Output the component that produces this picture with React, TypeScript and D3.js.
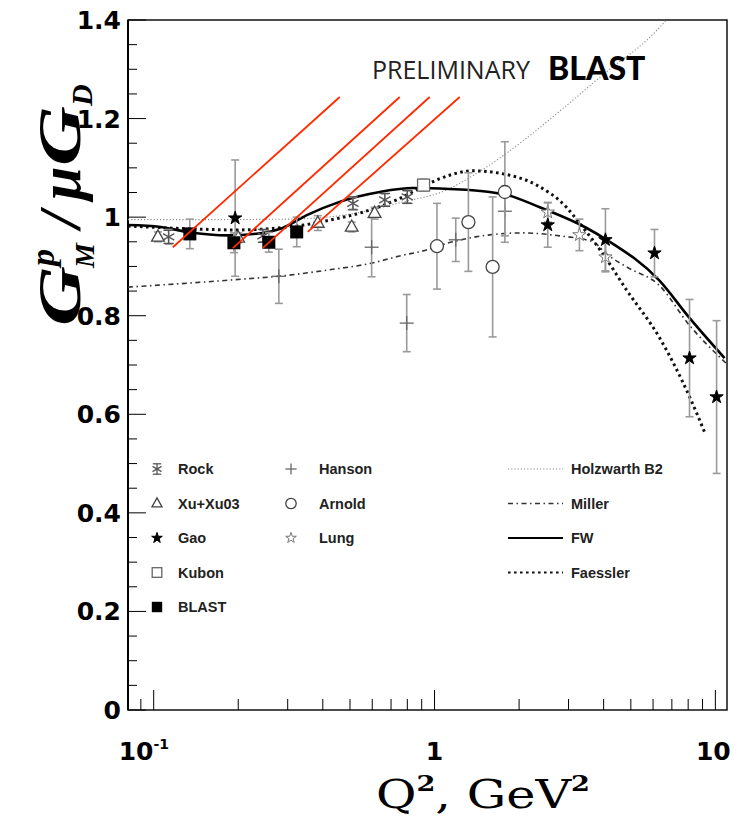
import React from 'react';
import * as d3 from 'd3';

// ---------- axes ----------
const xDomain: [number, number] = [0.081, 11];
const yDomain: [number, number] = [0, 1.4];
const yTickValues = [0, 0.2, 0.4, 0.6, 0.8, 1, 1.2, 1.4];
const yTickLabels = ['0', '0.2', '0.4', '0.6', '0.8', '1', '1.2', '1.4'];
const xMajorTicks = [0.1, 1, 10];
const xMinorTicks = [0.09, 0.2, 0.3, 0.4, 0.5, 0.6, 0.7, 0.8, 0.9, 2, 3, 4, 5, 6, 7, 8, 9];

// ---------- data sets (Q2, value, error) ----------
const rockQ2 = [0.113, 0.245, 0.512, 0.665, 0.80];
const rockVal = [0.960, 0.962, 1.028, 1.035, 1.041];
const rockErr = [0.015, 0.012, 0.012, 0.012, 0.012];

const xuQ2 = [0.1035, 0.20, 0.384, 0.507, 0.612];
const xuVal = [0.960, 0.958, 0.988, 0.980, 1.008];
const xuErr = [0.010, 0.010, 0.015, 0.010, 0.012];

const gaoQ2 = [0.195, 2.53, 4.06, 6.07, 8.09, 10.1];
const gaoVal = [0.998, 0.984, 0.954, 0.927, 0.714, 0.635];
const gaoErr = [0.118, 0.045, 0.063, 0.048, 0.119, 0.155];

const kubonQ2 = [0.914];
const kubonVal = [1.065];
const kubonErr = [0.012];

const blastQ2 = [0.1345, 0.193, 0.257, 0.323];
const blastVal = [0.966, 0.948, 0.949, 0.970];
const blastErr = [0.03, 0.02, 0.02, 0.03];

const hansonQ2 = [0.279, 0.597, 0.796, 1.19, 1.78];
const hansonVal = [0.880, 0.939, 0.785, 0.954, 1.012];
const hansonErr = [0.055, 0.060, 0.058, 0.044, 0.050];

const arnoldQ2 = [1.02, 1.32, 1.61, 1.78];
const arnoldVal = [0.941, 0.990, 0.899, 1.051];
const arnoldErr = [0.087, 0.100, 0.142, 0.102];

const lungQ2 = [2.53, 3.28, 4.06];
const lungVal = [1.010, 0.964, 0.919];
const lungErr = [0.020, 0.032, 0.030];

// ---------- model curves ----------
const holzQ2 = [0.081, 0.15, 0.3, 0.5, 0.8, 1.05, 1.45, 2.1, 3.0, 4.2, 5.7, 7.2];
const holzVal = [0.995, 0.995, 0.996, 1.006, 1.033, 1.05, 1.093, 1.158, 1.23, 1.30, 1.359, 1.42];

const millerQ2 = [0.081, 0.184, 0.30, 0.42, 0.6, 0.76, 0.93, 1.0, 1.16, 1.57, 2.06, 2.79, 3.66, 4.1, 4.83, 6.3, 8.1, 10.9];
const millerVal = [0.858, 0.872, 0.882, 0.893, 0.907, 0.922, 0.933, 0.939, 0.950, 0.964, 0.968, 0.962, 0.950, 0.925, 0.899, 0.862, 0.780, 0.704];

const fwQ2 = [0.081, 0.106, 0.132, 0.184, 0.244, 0.288, 0.351, 0.459, 0.638, 0.836, 1.13, 1.57, 1.81, 2.37, 3.48, 4.10, 6.3, 8.1, 10.78];
const fwVal = [0.984, 0.980, 0.970, 0.963, 0.968, 0.978, 1.004, 1.031, 1.051, 1.059, 1.057, 1.051, 1.045, 1.020, 0.978, 0.954, 0.872, 0.795, 0.714];

const faeQ2 = [0.081, 0.140, 0.195, 0.323, 0.424, 0.555, 0.733, 0.96, 1.13, 1.37, 1.71, 2.31, 2.95, 3.28, 3.96, 4.83, 6.3, 8.1, 9.15];
const faeVal = [0.982, 0.976, 0.974, 0.982, 0.994, 1.010, 1.035, 1.069, 1.085, 1.094, 1.089, 1.065, 1.020, 0.988, 0.927, 0.852, 0.757, 0.635, 0.564];

// ---------- red annotation lines (Q2/value of both ends) ----------
const redFromQ2 = [0.117, 0.1913, 0.2445, 0.3536];
const redFromVal = [0.939, 0.937, 0.937, 0.970];
const redToQ2 = [0.4596, 0.7516, 0.961, 1.229];
const redToVal = [1.2437, 1.2437, 1.2437, 1.2437];

// ---------- legend ----------
const legendCol1 = ['Rock', 'Xu+Xu03', 'Gao', 'Kubon', 'BLAST'];
const legendCol1Markers = ['asterisk', 'triangle', 'star', 'square', 'filledSquare'];
const legendCol2 = ['Hanson', 'Arnold', 'Lung'];
const legendCol2Markers = ['plus', 'circle', 'openStar'];
const legendCol3 = ['Holzwarth B2', 'Miller', 'FW', 'Faessler'];

const W = 746;
const H = 824;
const L = 128, R = 727, T = 20, B = 710;

const x = d3.scaleLog().domain(xDomain).range([L, R]);
const y = d3.scaleLinear().domain(yDomain).range([B, T]);

const lineGen = d3.line<[number, number]>()
  .x(d => x(d[0]))
  .y(d => y(d[1]))
  .curve(d3.curveMonotoneX);

const curveStyles: Record<string, any> = {
  holz: { stroke: '#8a8a8a', strokeWidth: 1.1, strokeDasharray: '1.2,2' },
  miller: { stroke: '#333', strokeWidth: 1.6, strokeDasharray: '5,3.5,1.5,3.5' },
  fw: { stroke: '#000', strokeWidth: 2.6, strokeDasharray: undefined },
  fae: { stroke: '#111', strokeWidth: 3, strokeDasharray: '2.6,3.4' },
};

function Marker({ type, cx, cy, s = 1 }: { type: string; cx: number; cy: number; s?: number }) {
  switch (type) {
    case 'asterisk': {
      const r = 6.5 * s;
      const a = r * Math.cos(Math.PI / 6), b = r * Math.sin(Math.PI / 6);
      return (
        <g stroke="#555" strokeWidth={1.3}>
          <line x1={cx} y1={cy - r} x2={cx} y2={cy + r} />
          <line x1={cx - a} y1={cy - b} x2={cx + a} y2={cy + b} />
          <line x1={cx - a} y1={cy + b} x2={cx + a} y2={cy - b} />
          <line x1={cx - r * 0.8} y1={cy - r} x2={cx + r * 0.8} y2={cy - r} />
          <line x1={cx - r * 0.8} y1={cy + r} x2={cx + r * 0.8} y2={cy + r} />
        </g>
      );
    }
    case 'triangle': {
      const r = 7 * s;
      return (
        <path d={`M${cx},${cy - r} L${cx + r * 0.9},${cy + r * 0.6} L${cx - r * 0.9},${cy + r * 0.6} Z`}
          fill="#fff" stroke="#444" strokeWidth={1.3} />
      );
    }
    case 'star':
    case 'openStar': {
      const p = d3.symbol(d3.symbolStar, 55 * s * s)() as string;
      return (
        <path d={p} transform={`translate(${cx},${cy})`}
          fill={type === 'star' ? '#000' : '#fff'}
          stroke={type === 'star' ? '#000' : '#777'} strokeWidth={1} />
      );
    }
    case 'square': {
      const h = 6 * s;
      return <rect x={cx - h} y={cy - h} width={2 * h} height={2 * h} fill="#fff" stroke="#666" strokeWidth={1.3} />;
    }
    case 'filledSquare': {
      const h = 6.5 * s;
      return <rect x={cx - h} y={cy - h} width={2 * h} height={2 * h} fill="#000" />;
    }
    case 'plus': {
      const r = 7 * s;
      return (
        <g stroke="#666" strokeWidth={1.3}>
          <line x1={cx - r} y1={cy} x2={cx + r} y2={cy} />
          <line x1={cx} y1={cy - r} x2={cx} y2={cy + r} />
        </g>
      );
    }
    case 'circle': {
      return <circle cx={cx} cy={cy} r={6.5 * s} fill="#fff" stroke="#444" strokeWidth={1.3} />;
    }
    default:
      return null;
  }
}

function Series({ q2, val, err, marker, key2 }: { q2: number[]; val: number[]; err: number[]; marker: string; key2: string }) {
  return (
    <g>
      {q2.map((q, i) => {
        const cx = x(q);
        const y1 = y(val[i] + err[i]);
        const y2 = y(val[i] - err[i]);
        return (
          <g key={key2 + i}>
            <g stroke="#9a9a9a" strokeWidth={1.6}>
              <line x1={cx} x2={cx} y1={y1} y2={y2} />
              <line x1={cx - 4} x2={cx + 4} y1={y1} y2={y1} />
              <line x1={cx - 4} x2={cx + 4} y1={y2} y2={y2} />
            </g>
            <Marker type={marker} cx={cx} cy={y(val[i])} />
          </g>
        );
      })}
    </g>
  );
}

export default function App() {
  const zip = (a: number[], b: number[]) => a.map((v, i) => [v, b[i]] as [number, number]);
  const yMinor = d3.range(0, 1.4001, 0.05).filter(v => Math.abs(Math.round(v * 5) - v * 5) > 1e-6);
  const axisFont = 'DejaVu Sans';
  const legendFont = 'Liberation Sans';
  return (
    <svg width={W} height={H} style={{ position: 'absolute', left: 0, top: 0, background: '#fff' }}
      xmlns="http://www.w3.org/2000/svg">
      <defs>
        <clipPath id="plotClip">
          <rect x={L} y={T} width={R - L} height={B - T} />
        </clipPath>
      </defs>
      <rect x={0} y={0} width={W} height={H} fill="#fff" />

      {/* ticks */}
      <g stroke="#000" strokeWidth={1}>
        {yTickValues.map(v => <line key={'yt' + v} x1={L} x2={L + 18} y1={y(v)} y2={y(v)} />)}
        {yMinor.map(v => <line key={'ym' + v} x1={L} x2={L + 9} y1={y(v)} y2={y(v)} />)}
        {xMajorTicks.map(v => <line key={'xt' + v} x1={x(v)} x2={x(v)} y1={B} y2={B - 20} />)}
        {xMinorTicks.map(v => <line key={'xm' + v} x1={x(v)} x2={x(v)} y1={B} y2={B - 11} />)}
      </g>

      {/* frame */}
      <rect x={L} y={T} width={R - L} height={B - T} fill="none" stroke="#000" strokeWidth={1.4} />
      <line x1={L} x2={L} y1={T} y2={B} stroke="#000" strokeWidth={2} />

      {/* y labels */}
      <g fontFamily={axisFont} fontWeight="bold" fontSize={25} fill="#000" textAnchor="end">
        {yTickValues.map((v, i) => (
          <text key={'yl' + v} x={121} y={y(v) + 9}>{yTickLabels[i]}</text>
        ))}
      </g>
      {/* x labels */}
      <g fontFamily={axisFont} fontWeight="bold" fontSize={25} fill="#000">
        <text x={x(xMajorTicks[0]) - 35} y={760}>10<tspan fontSize={14} dy={-11}>-1</tspan></text>
        <text x={x(xMajorTicks[1])} y={760} textAnchor="middle">1</text>
        <text x={x(xMajorTicks[2]) - 2} y={760} textAnchor="middle">10</text>
      </g>

      {/* axis titles */}
      <text x={376} y={808} fontFamily="DejaVu Serif" fontSize={40} fill="#000" textLength={214} lengthAdjust="spacingAndGlyphs">
        Q<tspan fontSize={22} dy={-17} fontWeight="bold">2</tspan><tspan dy={17}>, GeV</tspan><tspan fontSize={22} dy={-17} fontWeight="bold">2</tspan>
      </text>
      <g transform="translate(80,326) rotate(-90)" fontFamily="Liberation Serif" fontWeight="bold" fontStyle="italic" fill="#000">
        <text x={0} y={0} fontSize={62} textLength={60} lengthAdjust="spacingAndGlyphs">G</text>
        <text x={60} y={-26} fontSize={34}>p</text>
        <text x={58} y={14} fontSize={28}>M</text>
        <text x={98} y={0} fontSize={60}>/</text>
        <text x={126} y={0} fontSize={60}>μ</text>
        <text x={160} y={0} fontSize={62} textLength={60} lengthAdjust="spacingAndGlyphs">G</text>
        <text x={220} y={12} fontSize={30}>D</text>
      </g>

      {/* curves */}
      <g clipPath="url(#plotClip)" fill="none">
        <path d={lineGen(zip(holzQ2, holzVal)) as string} {...curveStyles.holz} />
        <path d={lineGen(zip(millerQ2, millerVal)) as string} {...curveStyles.miller} />
        <path d={lineGen(zip(faeQ2, faeVal)) as string} {...curveStyles.fae} />
        <path d={lineGen(zip(fwQ2, fwVal)) as string} {...curveStyles.fw} />
      </g>

      {/* data */}
      <g clipPath="url(#plotClip)">
        <Series q2={hansonQ2} val={hansonVal} err={hansonErr} marker="plus" key2="h" />
        <Series q2={arnoldQ2} val={arnoldVal} err={arnoldErr} marker="circle" key2="a" />
        <Series q2={rockQ2} val={rockVal} err={rockErr} marker="asterisk" key2="r" />
        <Series q2={xuQ2} val={xuVal} err={xuErr} marker="triangle" key2="x" />
        <Series q2={kubonQ2} val={kubonVal} err={kubonErr} marker="square" key2="k" />
        <Series q2={lungQ2} val={lungVal} err={lungErr} marker="openStar" key2="l" />
        <Series q2={gaoQ2} val={gaoVal} err={gaoErr} marker="star" key2="g" />
        <Series q2={blastQ2} val={blastVal} err={blastErr} marker="filledSquare" key2="b" />
      </g>

      {/* red annotation lines */}
      <g stroke="#ff2a00" strokeWidth={1.8}>
        {redFromQ2.map((q, i) => (
          <line key={'red' + i} x1={x(q)} y1={y(redFromVal[i])} x2={x(redToQ2[i])} y2={y(redToVal[i])} />
        ))}
      </g>

      {/* preliminary label */}
      <text x={372} y={79} fontFamily="Open Sans" fontSize={25} fill="#222">PRELIMINARY</text>
      <text x={548} y={80} fontFamily="Lato" fontWeight="900" fontSize={32} fill="#000">BLAST</text>

      {/* legend */}
      <g fontFamily={legendFont} fontWeight="bold" fontSize={14.5} fill="#222">
        {legendCol1.map((name, i) => (
          <g key={'lg1' + i}>
            <Marker type={legendCol1Markers[i]} cx={157} cy={469 + i * 34.5} s={0.8} />
            <text x={178} y={474 + i * 34.5}>{name}</text>
          </g>
        ))}
        {legendCol2.map((name, i) => (
          <g key={'lg2' + i}>
            <Marker type={legendCol2Markers[i]} cx={291} cy={469 + i * 34.5} s={0.8} />
            <text x={319} y={474 + i * 34.5}>{name}</text>
          </g>
        ))}
        {legendCol3.map((name, i) => {
          const st = curveStyles[['holz', 'miller', 'fw', 'fae'][i]];
          return (
            <g key={'lg3' + i}>
              <line x1={508} x2={563} y1={469 + i * 34.5} y2={469 + i * 34.5}
                stroke={st.stroke} strokeWidth={Math.min(st.strokeWidth, 2.2)} strokeDasharray={st.strokeDasharray} />
              <text x={571} y={474 + i * 34.5}>{name}</text>
            </g>
          );
        })}
      </g>
    </svg>
  );
}
